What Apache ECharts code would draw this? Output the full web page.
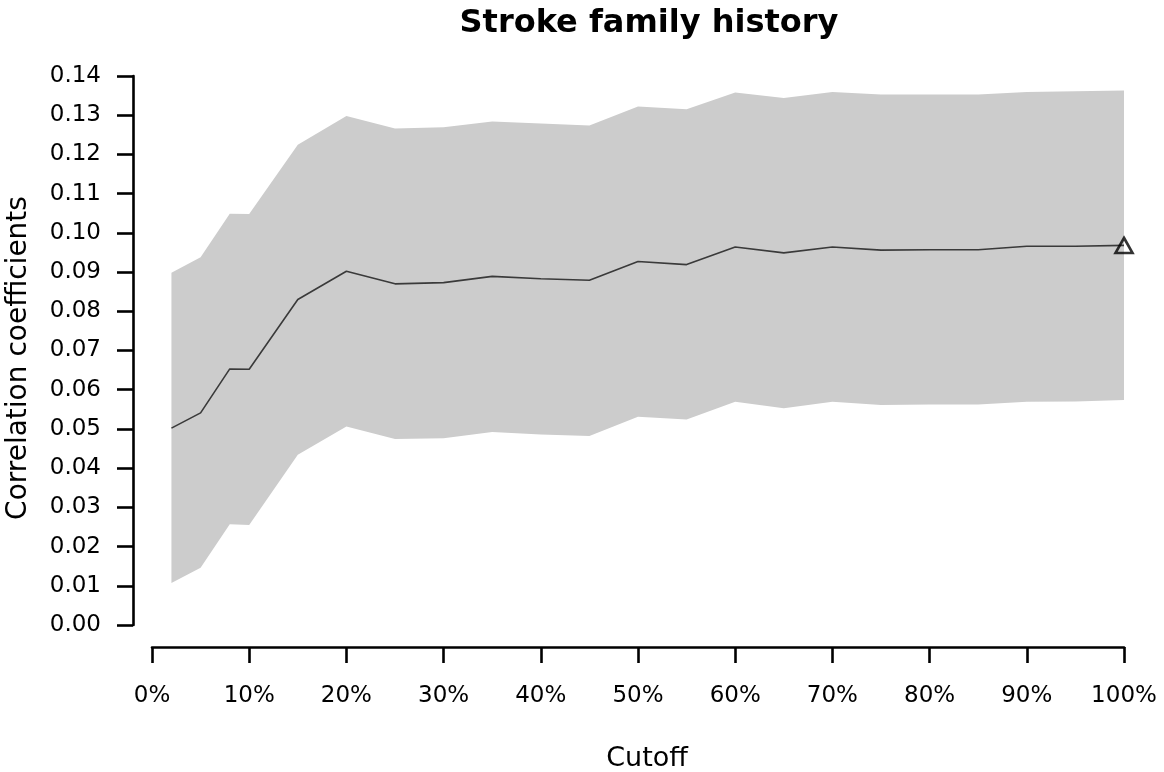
<!DOCTYPE html>
<html>
<head>
    <meta charset="utf-8">
    <title>Stroke family history</title>
    <script src="https://cdn.jsdelivr.net/npm/echarts@6/dist/echarts.min.js"></script>
    <style>
        html, body { margin: 0; padding: 0; background: #fff; }
        #main { width: 1164px; height: 772px; }
    </style>
</head>
<body>
    <div id="main"></div>
    <script type="text/javascript">
        // cutoff (%) and correlation with its confidence band
        var cutoffs = [2, 5, 8, 10, 15, 20, 25, 30, 35, 40, 45, 50, 55, 60, 65, 70, 75, 80, 85, 90, 95, 100];
        var corr = [0.0502, 0.0541, 0.0653, 0.0652, 0.0830, 0.0902, 0.0870, 0.0873, 0.0889, 0.0883, 0.0879,
            0.0927, 0.0919, 0.0964, 0.0949, 0.0964, 0.0956, 0.0957, 0.0957, 0.0966, 0.0966, 0.0968];
        var upper = [0.0898, 0.0938, 0.1049, 0.1048, 0.1225, 0.1298, 0.1266, 0.1269, 0.1284, 0.1279, 0.1274,
            0.1322, 0.1315, 0.1358, 0.1344, 0.1359, 0.1353, 0.1353, 0.1353, 0.1359, 0.1361, 0.1363];
        var lower = [0.0107, 0.0146, 0.0257, 0.0255, 0.0434, 0.0506, 0.0474, 0.0476, 0.0492, 0.0486, 0.0482,
            0.0531, 0.0524, 0.0569, 0.0553, 0.0569, 0.0561, 0.0562, 0.0562, 0.0569, 0.0570, 0.0574];

        var font = 'DejaVu Sans';
        var myChart = echarts.init(document.getElementById('main'));

        var linePts = cutoffs.map(function (c, i) { return [c, corr[i]]; });
        var last = linePts[linePts.length - 1];

        var option = {
            animation: false,
            backgroundColor: '#fff',
            title: {
                text: 'Stroke family history',
                left: 644,
                top: 3,
                textAlign: 'center',
                textStyle: { fontFamily: font, fontWeight: 'bold', fontSize: 32, color: '#000' }
            },
            grid: { left: 152, right: 40, top: 76, bottom: 147, outerBoundsMode: 'none' },
            xAxis: {
                type: 'value',
                min: 0,
                max: 100,
                interval: 10,
                offset: 22,
                name: 'Cutoff',
                nameLocation: 'middle',
                nameGap: 98,
                nameTextStyle: { fontFamily: font, fontSize: 27, color: '#000', padding: [0, 0, 0, 18] },
                axisLine: { onZero: false, lineStyle: { color: '#000', width: 2.6 } },
                axisTick: { length: 16, lineStyle: { color: '#000', width: 2.6 } },
                axisLabel: {
                    margin: 38,
                    fontFamily: font,
                    fontSize: 23,
                    color: '#000',
                    formatter: '{value}%'
                },
                splitLine: { show: false }
            },
            yAxis: {
                type: 'value',
                min: 0,
                max: 0.14,
                interval: 0.01,
                offset: 19,
                name: 'Correlation coefficients',
                nameLocation: 'middle',
                nameGap: 100,
                nameTextStyle: { fontFamily: font, fontSize: 28, color: '#000', padding: [0, 15, 0, 0] },
                axisLine: { show: true, onZero: false, lineStyle: { color: '#000', width: 2.6 } },
                axisTick: { show: true, length: 16, lineStyle: { color: '#000', width: 2.6 } },
                axisLabel: {
                    margin: 32,
                    fontFamily: font,
                    fontSize: 23,
                    color: '#000',
                    formatter: function (v) { return v.toFixed(2); }
                },
                splitLine: { show: false }
            },
            series: [
                {
                    // confidence band drawn as one polygon through the axes' scales
                    type: 'custom',
                    data: [0],
                    silent: true,
                    renderItem: function (params, api) {
                        var pts = [];
                        for (var i = 0; i < cutoffs.length; i++) pts.push(api.coord([cutoffs[i], upper[i]]));
                        for (var j = cutoffs.length - 1; j >= 0; j--) pts.push(api.coord([cutoffs[j], lower[j]]));
                        return {
                            type: 'polygon',
                            shape: { points: pts },
                            style: { fill: '#cccccc', stroke: null }
                        };
                    }
                },
                {
                    type: 'line',
                    data: linePts,
                    symbol: 'none',
                    lineStyle: { color: '#3a3a3a', width: 1.6 },
                    z: 3
                },
                {
                    type: 'scatter',
                    data: [last],
                    symbol: 'triangle',
                    symbolSize: [17, 15],
                    clip: false,
                    itemStyle: { color: 'rgba(0,0,0,0)', borderColor: '#000', borderWidth: 2.6 },
                    z: 4
                }
            ]
        };
        myChart.setOption(option);
    </script>
</body>
</html>
